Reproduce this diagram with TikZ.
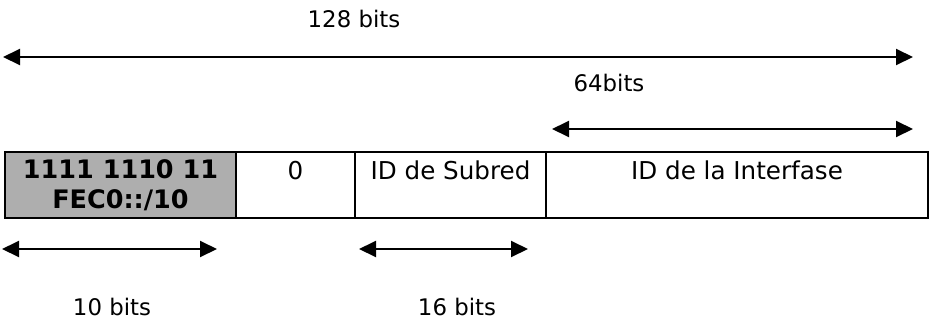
\documentclass[tikz,border=0pt]{standalone}
\usepackage{fontspec}
\setmainfont{DejaVu Sans}
\usetikzlibrary{arrows.meta,positioning}
\definecolor{trama}{HTML}{AEAEAE}

\begin{document}
\begin{tikzpicture}[x=0.2mm,y=-0.2mm,
          >={Triangle[length=3.4mm,width=3.2mm]},
          cell/.style={draw,line width=1pt,outer sep=0pt,inner sep=0pt,
                       minimum height=13.2mm,align=center,
                       text height=10.5pt,text depth=16.2pt,
                       font=\fontsize{14}{16}\selectfont},
          prefijo/.style={draw,line width=1pt,outer sep=0pt,inner sep=0pt,
                          minimum height=13.2mm,align=center,fill=trama,
                          font=\fontsize{14.5}{16.5}\selectfont\bfseries},
          dim/.style={<->,line width=1.1pt},
          dimlab/.style={font=\fontsize{13}{15}\selectfont}]
        \useasboundingbox (0,0) rectangle (931,325);
        % campos de la direccion
        \node[prefijo,minimum width=46.2mm,anchor=north west] (pref) at (5,152)
          {1111 1110 11\\[0.5pt]FEC0::/10};
        \node[cell,minimum width=23.8mm,right=0pt of pref] (cero) {0};
        \node[cell,minimum width=38.2mm,right=0pt of cero] (subred) {ID de Subred};
        \node[cell,minimum width=76.4mm,right=0pt of subred] (iface) {ID de la Interfase};
        % extremos de las cotas
        \coordinate (t1) at (3,57);   \coordinate (t2) at (913,57);
        \coordinate (m1) at (552,129); \coordinate (m2) at (913,129);
        \coordinate (a1) at (2,249);  \coordinate (a2) at (217,249);
        \coordinate (b1) at (359,249); \coordinate (b2) at (528,249);
        \draw[dim] (t1) -- (t2);
        \draw[dim] (m1) -- (m2);
        \draw[dim] (a1) -- (a2);
        \draw[dim] (b1) -- (b2);
        \node[dimlab] (l128) at (354,19) {128 bits};
        \node[dimlab] (l64) at (609,83) {64bits};
        \node[dimlab] (l10) at (112,307) {10 bits};
        \node[dimlab] (l16) at (457,307) {16 bits};
      \end{tikzpicture}
\end{document}
